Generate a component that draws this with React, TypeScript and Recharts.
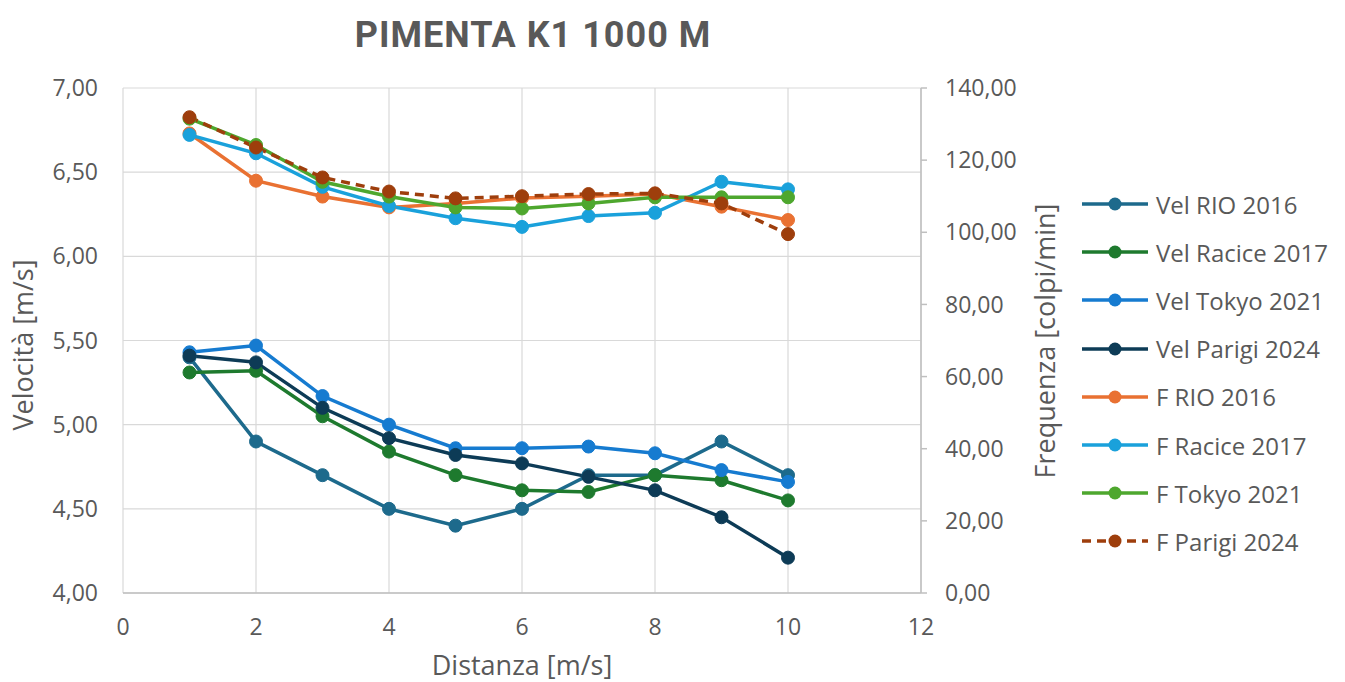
import React from 'react';
import { LineChart, Line, XAxis, YAxis, CartesianGrid } from 'recharts';

const distanze = [1, 2, 3, 4, 5, 6, 7, 8, 9, 10];
const velRio2016 = [5.40, 4.90, 4.70, 4.50, 4.40, 4.50, 4.70, 4.70, 4.90, 4.70];
const velRacice2017 = [5.31, 5.32, 5.05, 4.84, 4.70, 4.61, 4.60, 4.70, 4.67, 4.55];
const velTokyo2021 = [5.43, 5.47, 5.17, 5.00, 4.86, 4.86, 4.87, 4.83, 4.73, 4.66];
const velParigi2024 = [5.41, 5.37, 5.10, 4.92, 4.82, 4.77, 4.69, 4.61, 4.45, 4.21];
const fRio2016 = [127.4, 114.3, 109.9, 106.9, 108.0, 109.5, 110.0, 110.6, 107.1, 103.4];
const fRacice2017 = [127.0, 121.9, 112.6, 107.3, 103.9, 101.5, 104.5, 105.4, 114.0, 111.9];
const fTokyo2021 = [131.5, 124.2, 114.0, 109.9, 106.9, 106.6, 108.0, 109.7, 109.7, 109.7];
const fParigi2024 = [131.9, 123.5, 115.2, 111.3, 109.4, 110.0, 110.6, 110.8, 108.0, 99.5];

const xTicks = [0, 2, 4, 6, 8, 10, 12];
const leftTicks = [4, 4.5, 5, 5.5, 6, 6.5, 7];
const rightTicks = [0, 20, 40, 60, 80, 100, 120, 140];

const series = [
  { key: 'velRio', name: 'Vel RIO 2016', values: velRio2016, color: '#1D6A8C', axis: 'left', dashed: false },
  { key: 'velRacice', name: 'Vel Racice 2017', values: velRacice2017, color: '#1E7A2E', axis: 'left', dashed: false },
  { key: 'velTokyo', name: 'Vel Tokyo 2021', values: velTokyo2021, color: '#167BD0', axis: 'left', dashed: false },
  { key: 'velParigi', name: 'Vel Parigi 2024', values: velParigi2024, color: '#0D3B56', axis: 'left', dashed: false },
  { key: 'fRio', name: 'F RIO 2016', values: fRio2016, color: '#E97132', axis: 'right', dashed: false },
  { key: 'fRacice', name: 'F Racice 2017', values: fRacice2017, color: '#1AA1DB', axis: 'right', dashed: false },
  { key: 'fTokyo', name: 'F Tokyo 2021', values: fTokyo2021, color: '#4EA72E', axis: 'right', dashed: false },
  { key: 'fParigi', name: 'F Parigi 2024', values: fParigi2024, color: '#9E3E0C', axis: 'right', dashed: true },
];

const data = distanze.map((d, i) => {
  const row: any = { d };
  series.forEach((s) => { row[s.key] = s.values[i]; });
  return row;
});

const fmt = (v: number) => v.toFixed(2).replace('.', ',');
const TEXT = '#595959';
const FONT = '"Open Sans", sans-serif';
const TICK = 23;
const TITLE = 27;

const LegendBox = () => (
  <div style={{ position: 'absolute', left: 1082, top: 180, fontFamily: FONT }}>
    {series.map((s) => (
      <div key={s.key} style={{ display: 'flex', alignItems: 'center', height: 48.2 }}>
        <svg width={66} height={20} style={{ overflow: 'visible' }}>
          <line x1={0} y1={10} x2={66} y2={10} stroke={s.color} strokeWidth={3.5}
            strokeDasharray={s.dashed ? '9 6' : undefined} />
          <circle cx={33} cy={10} r={6.5} fill={s.color} />
        </svg>
        <span style={{ marginLeft: 8, fontSize: 24, color: TEXT, whiteSpace: 'nowrap' }}>{s.name}</span>
      </div>
    ))}
  </div>
);

export default function App() {
  return (
    <div style={{ position: 'absolute', left: 0, top: 0, width: 1345, height: 682, background: '#fff', overflow: 'hidden' }}>
      <div style={{ position: 'absolute', left: 0, width: 1066, top: 14, textAlign: 'center',
        fontFamily: 'Roboto, sans-serif', fontWeight: 700, fontSize: 36, letterSpacing: 1, color: TEXT }}>
        PIMENTA K1 1000 M
      </div>
      <LineChart width={1345} height={682} data={data}
        margin={{ top: 88, right: 324, bottom: 29, left: 13 }}
        style={{ fontFamily: FONT }}>
        <CartesianGrid yAxisId="left" stroke="#d9d9d9" strokeWidth={1.2} />
        <XAxis dataKey="d" type="number" domain={[0, 12]} ticks={xTicks} height={60}
          tick={{ fill: TEXT, fontSize: TICK }} tickLine={false} tickSize={0} tickMargin={26}
          axisLine={{ stroke: '#bfbfbf', strokeWidth: 1.5 }}
          label={{ content: (p: any) => (
            <text x={p.viewBox.x + p.viewBox.width / 2} y={675} textAnchor="middle"
              fill={TEXT} fontSize={TITLE} fontFamily={FONT}>Distanza [m/s]</text>
          ) }} />
        <YAxis yAxisId="left" domain={[4, 7]} ticks={leftTicks} width={110}
          tickFormatter={fmt} tick={{ fill: TEXT, fontSize: TICK }} tickLine={false} tickSize={0}
          tickMargin={25} axisLine={false}
          label={{ content: (p: any) => (
            <text x={33} y={345} textAnchor="middle" transform="rotate(-90 33 345)"
              fill={TEXT} fontSize={TITLE} fontFamily={FONT}>Velocità [m/s]</text>
          ) }} />
        <YAxis yAxisId="right" orientation="right" domain={[0, 140]} ticks={rightTicks} width={100}
          tickFormatter={fmt} tick={{ fill: TEXT, fontSize: TICK }}
          tickLine={{ stroke: '#bfbfbf', strokeWidth: 1.5 }} tickSize={6} tickMargin={18}
          axisLine={{ stroke: '#bfbfbf', strokeWidth: 1.5 }}
          label={{ content: (p: any) => (
            <text x={1055} y={341} textAnchor="middle" transform="rotate(-90 1055 341)"
              fill={TEXT} fontSize={TITLE} fontFamily={FONT}>Frequenza [colpi/min]</text>
          ) }} />
        {series.map((s) => (
          <Line key={s.key} yAxisId={s.axis} dataKey={s.key} name={s.name} stroke={s.color}
            strokeWidth={3.5} strokeDasharray={s.dashed ? '9 6' : undefined}
            dot={{ r: 6.5, fill: s.color, stroke: s.color, strokeWidth: 1, strokeDasharray: '' }}
            activeDot={false} isAnimationActive={false} />
        ))}
      </LineChart>
      <LegendBox />
    </div>
  );
}
